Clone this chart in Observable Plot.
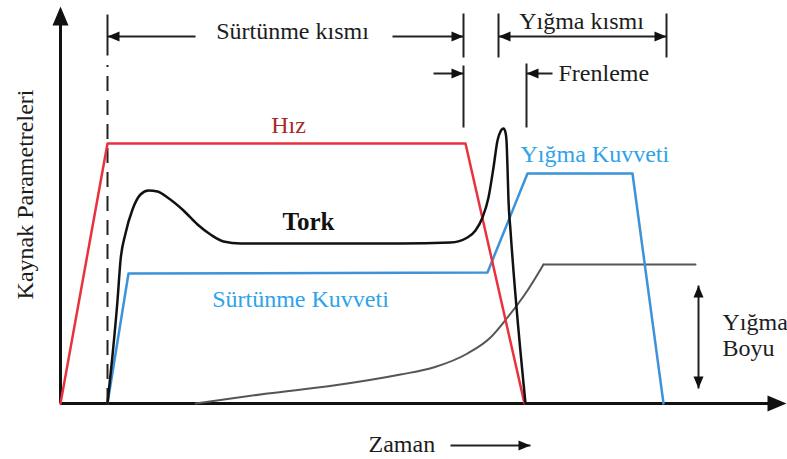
<!DOCTYPE html>
<html>
<head>
<meta charset="utf-8">
<script src="https://cdn.jsdelivr.net/npm/d3@7"></script>
<script src="https://cdn.jsdelivr.net/npm/@observablehq/plot@0.6"></script>
<style>
  body { margin: 0; background: #fff; }
  #chart svg { display: block; }
</style>
</head>
<body>
<div id="chart"></div>
<script>
// Friction welding cycle: time (t) along x, process parameter level (v) along y, arbitrary units.

// Hız (rotational speed)
const hizT = [0, 47, 405, 464];
const hizV = [0, 260, 260, 0];

// Tork (torque)
const torkT = [47, 52, 57, 60, 65, 72, 80, 88, 97, 107, 123, 137, 150, 163, 180, 340, 390, 407, 415, 422, 428, 433, 437, 440, 443, 445, 446, 447, 448, 450, 465];
const torkV = [0, 48, 103, 143, 170, 194, 209, 213, 212, 206, 193, 179, 169, 162, 160, 160, 161, 166, 173, 186, 206, 236, 263, 272, 275, 271, 263, 236, 203, 173, 0];

// Axial force: friction stage, then upset stage
const kuvvetT = [47, 68, 427, 467, 572, 603];
const kuvvetV = [0, 130, 131, 230, 230, 0];

// Yığma boyu (upset length): gradual rise, then constant
const boyT = [135, 207, 273, 340, 373, 407, 430, 447, 467, 483];
const boyV = [0, 10, 18, 29, 36, 50, 66, 86, 113, 139];
const boyEndT = 635;

// Stage boundaries
const baslangicT = 47;    // start of friction
const surtunmeSonT = 403; // end of friction
const yigmaBasT = 438;    // start of upset
const frenSonT = 466;     // end of braking
const yigmaSonT = 606;    // end of upset

const pts = (T, V) => T.map((t, i) => ({t, v: V[i]}));

const hiz = pts(hizT, hizV);
const tork = pts(torkT, torkV);
const kuvvet = pts(kuvvetT, kuvvetV);
const boy = pts(boyT, boyV);
const boyDuz = [{t: boyT[boyT.length - 1], v: boyV[boyV.length - 1]}, {t: boyEndT, v: boyV[boyV.length - 1]}];

// Dimension marks above the plot
const ustSira = 367, altSira = 330;
const cizgiler = [
  // boundary ticks
  {t1: baslangicT, v1: 348, t2: baslangicT, v2: 389},
  {t1: surtunmeSonT, v1: 346, t2: surtunmeSonT, v2: 390},
  {t1: surtunmeSonT, v1: 276, t2: surtunmeSonT, v2: 338},
  {t1: yigmaBasT, v1: 346, t2: yigmaBasT, v2: 390},
  {t1: yigmaSonT, v1: 346, t2: yigmaSonT, v2: 390},
  {t1: frenSonT, v1: 276, t2: frenSonT, v2: 340},
  // dimension shafts
  {t1: baslangicT, v1: ustSira, t2: 135, v2: ustSira},
  {t1: 332, v1: ustSira, t2: surtunmeSonT, v2: ustSira},
  {t1: yigmaBasT, v1: ustSira, t2: yigmaSonT, v2: ustSira},
  {t1: 373, v1: altSira, t2: surtunmeSonT, v2: altSira},
  {t1: frenSonT, v1: altSira, t2: 492, v2: altSira},
  // Yığma Boyu span
  {t1: 638, v1: 15, t2: 638, v2: 118},
  // Zaman arrow
  {t1: 390, v1: -42, t2: 470, v2: -42}
];

// Arrowheads: tip position and direction (degrees, 0 = up)
const okUclari = [
  {t: baslangicT, v: ustSira, yon: -90},
  {t: surtunmeSonT, v: ustSira, yon: 90},
  {t: yigmaBasT, v: ustSira, yon: -90},
  {t: yigmaSonT, v: ustSira, yon: 90},
  {t: surtunmeSonT, v: altSira, yon: 90},
  {t: frenSonT, v: altSira, yon: -90},
  {t: 638, v: 118, yon: 0},
  {t: 638, v: 15, yon: 180},
  {t: 470, v: -42, yon: 90}
];
const eksenUclari = [
  {t: 0, v: 397, yon: 0},
  {t: 726, v: 0, yon: 90}
];

// Text labels (centred, and left-aligned)
const ortaEtiketler = [
  {text: "Sürtünme kısmı", t: 232, v: 365, color: "#1c1c1c"},
  {text: "Yığma kısmı", t: 521, v: 375, color: "#1c1c1c"},
  {text: "Hız", t: 228, v: 271, color: "#a52a2a"},
  {text: "Sürtünme Kuvveti", t: 240, v: 97, color: "#2ea3e8"}
];
const solEtiketler = [
  {text: "Frenleme", t: 498, v: 323, color: "#1c1c1c"},
  {text: "Yığma Kuvveti", t: 460, v: 242, color: "#2ea3e8"},
  {text: "Yığma", t: 662, v: 74, color: "#1c1c1c"},
  {text: "Boyu", t: 662, v: 48, color: "#1c1c1c"},
  {text: "Zaman", t: 308, v: -48, color: "#1c1c1c"}
];

const ucSekli = {
  draw(context, l, r) {
    context.moveTo(0, -l);
    context.lineTo(-r, 0);
    context.lineTo(r, 0);
    context.closePath();
  }
};

const font = "Liberation Serif";

const chart = Plot.plot({
  width: 787,
  height: 459,
  marginLeft: 60,
  marginRight: 0,
  marginTop: 0,
  marginBottom: 56,
  x: {domain: [0, 727], axis: null},
  y: {domain: [0, 403], axis: null},
  style: {background: "#fff", overflow: "visible"},
  marks: [
    // dashed start line
    Plot.ruleX([baslangicT], {y1: 0, y2: 338, stroke: "#222", strokeWidth: 2, strokeDasharray: "15,9"}),
    // axes
    Plot.ruleX([0], {y1: 0, y2: 385, stroke: "#111", strokeWidth: 3}),
    Plot.ruleY([0], {x1: 0, x2: 712, stroke: "#111", strokeWidth: 3}),
    Plot.vector(eksenUclari, {x: "t", y: "v", rotate: "yon", length: 19, r: 8, anchor: "end", shape: ucSekli, fill: "#111", stroke: "none"}),
    // upset length
    Plot.line(boy, {x: "t", y: "v", curve: "monotone-x", stroke: "#555", strokeWidth: 2}),
    Plot.line(boyDuz, {x: "t", y: "v", stroke: "#555", strokeWidth: 2}),
    // force
    Plot.line(kuvvet, {x: "t", y: "v", stroke: "#3d92d8", strokeWidth: 2.5}),
    // speed
    Plot.line(hiz, {x: "t", y: "v", stroke: "#e8323c", strokeWidth: 2.5}),
    // torque
    Plot.line(tork, {x: "t", y: "v", curve: "monotone-x", stroke: "#111", strokeWidth: 2.5}),
    // dimension lines and arrowheads
    Plot.link(cizgiler, {x1: "t1", y1: "v1", x2: "t2", y2: "v2", stroke: "#222", strokeWidth: 2}),
    Plot.vector(okUclari, {x: "t", y: "v", rotate: "yon", length: 12, r: 5, anchor: "end", shape: ucSekli, fill: "#111", stroke: "none"}),
    // labels
    Plot.text(ortaEtiketler, {x: "t", y: "v", text: "text", textAnchor: "middle", fill: "color", fontSize: 24, fontFamily: font, lineAnchor: "bottom"}),
    Plot.text(solEtiketler, {x: "t", y: "v", text: "text", textAnchor: "start", fill: "color", fontSize: 24, fontFamily: font, lineAnchor: "bottom"}),
    Plot.text(["Tork"], {x: 248, y: 174, fontSize: 25, fontWeight: "bold", fontFamily: font, fill: "#111", lineAnchor: "bottom"}),
    Plot.text(["Kaynak Parametreleri"], {x: -28, y: 209, rotate: -90, fontSize: 24, fontFamily: font, fill: "#1c1c1c", lineAnchor: "bottom"})
  ]
});

document.getElementById("chart").append(chart);
</script>
</body>
</html>
